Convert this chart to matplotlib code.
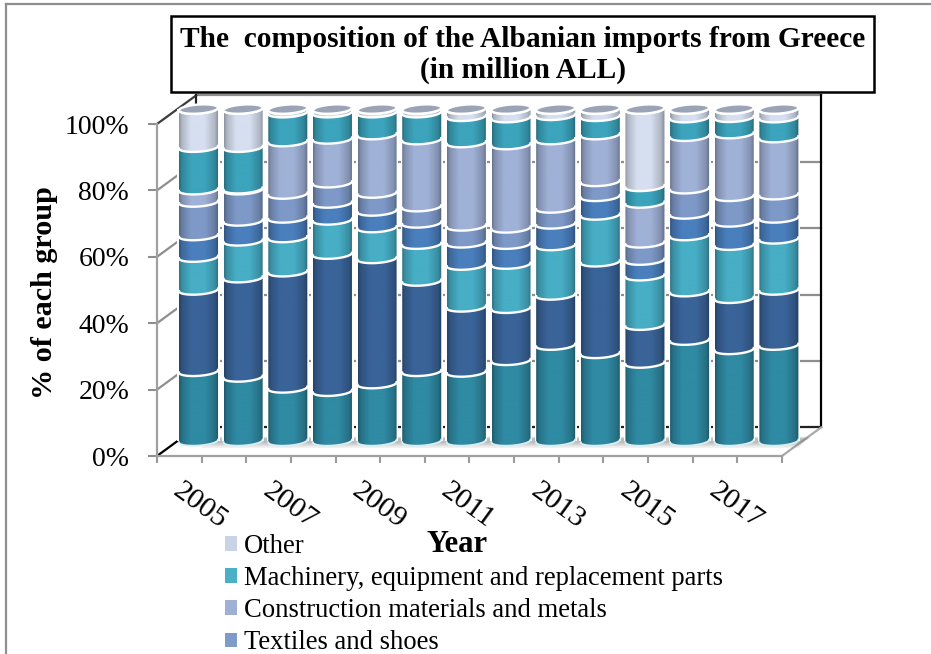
import numpy as np
import matplotlib
matplotlib.use("Agg")
import matplotlib.pyplot as plt
from matplotlib.colors import to_rgb
from matplotlib.patches import Patch, PathPatch, Rectangle
from matplotlib.path import Path
from matplotlib.transforms import ScaledTranslation

plt.rcParams["font.family"] = ["Liberation Serif", "DejaVu Serif"]

years = list(range(2005, 2019))
tick_years = years[::2]

# Share of each group per year, in percent, stacked from the bottom up
group_a = [21.0, 19.3, 16.0, 15.0, 17.3, 21.0, 20.8, 24.3, 28.9, 26.4, 23.5, 30.4, 27.6, 28.9]
group_b = [24.5, 29.9, 35.0, 41.3, 37.7, 27.2, 19.6, 15.7, 15.1, 27.6, 11.4, 14.6, 15.4, 16.6]
group_c = [9.9, 11.1, 10.3, 10.3, 9.3, 11.1, 12.6, 13.3, 14.9, 14.1, 14.9, 16.9, 16.0, 15.4]
group_d = [6.5, 6.0, 5.9, 5.1, 5.0, 6.4, 6.7, 6.0, 6.5, 5.6, 4.7, 6.5, 7.0, 6.3]
textiles = [10.1, 9.4, 7.2, 6.1, 5.4, 4.9, 5.1, 4.9, 4.8, 4.5, 5.2, 7.6, 7.7, 7.0]
construction = [3.7, 0.3, 15.8, 13.2, 17.6, 20.2, 25.1, 25.1, 20.6, 14.1, 12.0, 15.8, 18.9, 17.2]
machinery = [12.8, 12.5, 8.7, 7.9, 6.6, 8.1, 7.9, 8.1, 7.3, 5.5, 5.0, 5.6, 4.9, 6.0]
other = [11.5, 11.5, 1.1, 1.1, 1.1, 1.1, 2.2, 2.6, 1.9, 2.2, 23.3, 2.6, 2.5, 2.6]

series = [group_a, group_b, group_c, group_d, textiles, construction, machinery, other]
body_colors = ["#2f8aa3", "#3a6499", "#47aec6", "#4a7fbd", "#7e99c8", "#a0b1d7", "#3ca4bc", "#d6dff0"]

legend_labels = ["Other", "Machinery, equipment and replacement parts",
                 "Construction materials and metals", "Textiles and shoes"]
legend_colors = ["#c8d3e6", "#4bafc8", "#9fb0d5", "#7f9cc9"]

W, H, DPI = 931, 654, 100
fig = plt.figure(figsize=(W / DPI, H / DPI), dpi=DPI, facecolor="white")
ax = fig.add_axes([157 / W, 1 - 456 / H, 625 / W, 332 / H])
ax.patch.set_visible(False)
XLIM, YLIM = (-0.5, 13.5), (0, 100)

# Outer border of the chart area
for seg in ([6, 6], [4, 654]), ([6, 931], [4, 4]):
    fig.add_artist(plt.Line2D(np.array(seg[0]) / W, 1 - np.array(seg[1]) / H, color="#8f8f8f", lw=1.6))

# Depth of the 3D box, and where the cylinders stand within it, in data units
DEPTH_X, DEPTH_Y = 0.875, 8.6
MID_X, MID_Y = 0.43, 4.5
RX, RY, TILT = 0.437, 1.36, 0.9

GREY = "#8e8e8e"
x0, x1 = XLIM
bx0, bx1 = x0 + DEPTH_X, x1 + DEPTH_X
for v in (20, 40, 60, 80):
    ax.plot([bx0, bx1], [v + DEPTH_Y] * 2, color=GREY, lw=1.6, clip_on=False, zorder=1)
    ax.plot([x0, bx0], [v, v + DEPTH_Y], color=GREY, lw=1.6, clip_on=False, zorder=1)
ax.plot([bx0, bx1], [100 + DEPTH_Y] * 2, color=GREY, lw=1.6, clip_on=False, zorder=1)
ax.plot([x0, bx0], [100, 100 + DEPTH_Y], color="#3c3c3c", lw=1.6, clip_on=False, zorder=1)
ax.plot([x0, bx0], [0, DEPTH_Y], color="black", lw=1.6, clip_on=False, zorder=1)
ax.plot([bx0, bx1], [DEPTH_Y] * 2, color="#222222", lw=1.6, clip_on=False, zorder=1)
ax.plot([bx0, bx0], [DEPTH_Y, 100 + DEPTH_Y], color="#222222", lw=1.6, clip_on=False, zorder=1)
ax.plot([bx1, bx1], [DEPTH_Y, 100 + DEPTH_Y], color="black", lw=1.6, clip_on=False, zorder=1)
ax.plot([x1, bx1], [0, DEPTH_Y], color="#a9a9a9", lw=1.6, clip_on=False, zorder=1)

# Soft shadow on the floor underneath the cylinders
for k, alpha in enumerate((0.10, 0.14, 0.18, 0.22)):
    ax.fill([x0 + 1.0, x1 + 0.38 - k * 0.01, x1 + 0.62, x0 + 1.2],
            [2.4 + k * 0.5, 2.4 + k * 0.5, 5.9 - k * 0.2, 5.9 - k * 0.2],
            color="#7f7f7f", alpha=alpha, lw=0, clip_on=False, zorder=2)

shade_u = np.linspace(0, 1, 80)
shade = np.interp(shade_u, [0, 0.07, 0.3, 0.65, 0.9, 1], [0.66, 0.82, 1.0, 1.0, 0.82, 0.62])


def front_arc(xc, level, n=40, reverse=False):
    t = np.linspace(np.pi, 2 * np.pi, n)
    xs = xc + RX * np.cos(t)
    ys = level + RY * np.sin(t) + TILT * (xs - xc)
    return (xs[::-1], ys[::-1]) if reverse else (xs, ys)


cum = np.cumsum(np.array(series, dtype=float), axis=0)
for i in range(len(years)):
    xc = i + MID_X
    # White halo that keeps the wall lines from touching the cylinder
    ax.fill([xc - RX - 0.035, xc + RX + 0.035, xc + RX + 0.035, xc - RX - 0.035],
            [MID_Y, MID_Y, 100 + MID_Y, 100 + MID_Y], color="white", lw=0, clip_on=False, zorder=3)
    for s in range(len(series)):
        lo = MID_Y + (cum[s - 1, i] if s else 0)
        hi = MID_Y + cum[s, i]
        xa, ya = front_arc(xc, hi)
        xb, yb = front_arc(xc, lo, reverse=True)
        verts = np.column_stack([np.r_[xa, xb, xa[0]], np.r_[ya, yb, ya[0]]])
        patch = PathPatch(Path(verts), fc="none", ec="none", transform=ax.transData)
        ax.add_patch(patch)
        base = np.array(to_rgb(body_colors[s]))
        img = np.clip(shade[None, :, None] * base[None, None, :], 0, 1)
        im = ax.imshow(img, extent=[xc - RX, xc + RX, lo - 3, hi + 3], aspect="auto",
                       interpolation="bilinear", zorder=4 + 0.01 * s, origin="lower")
        im.set_clip_box(fig.bbox)
        im.set_clip_path(patch)
        ax.plot(xa, ya, color="white", lw=1.7, clip_on=False, zorder=5)
    # Pale rim along the foot of the cylinder
    xf, yf = front_arc(xc, MID_Y)
    ax.plot(xf, yf, color="#d8eef3", lw=1.4, clip_on=False, zorder=5)
    # Top cap
    t = np.linspace(0, 2 * np.pi, 80)
    xt = xc + RX * np.cos(t)
    yt = MID_Y + 100 + RY * np.sin(t) + TILT * (xt - xc)
    ax.fill(xt, yt, fc="#9aa4b6", ec="white", lw=1.7, clip_on=False, zorder=6)

ax.set_xlim(*XLIM)
ax.set_ylim(*YLIM)

for side in ("top", "right"):
    ax.spines[side].set_visible(False)
for side in ("left", "bottom"):
    ax.spines[side].set_color("#a0a0a0")
    ax.spines[side].set_linewidth(1.6)
    ax.spines[side].set_zorder(2.5)

ax.set_yticks(range(0, 101, 20))
ax.set_yticklabels([f"{v}%" for v in range(0, 101, 20)], fontsize=20)
ax.tick_params(axis="y", length=6.5, width=1.5, color="#8e8e8e", pad=13.5)
ax.set_xticks(np.arange(-0.5, 13.6, 1), minor=True)
ax.tick_params(axis="x", which="minor", length=5, width=1.5, color="#9a9a9a")
ax.set_xticks([years.index(y) for y in tick_years])
ax.set_xticklabels(tick_years, fontsize=21.5, rotation=-36, ha="left", va="center",
                   rotation_mode="anchor")
ax.tick_params(axis="x", which="major", length=0, pad=23)
for label in ax.get_xticklabels():
    label.set_transform(label.get_transform() + ScaledTranslation(-3 / DPI, 0, fig.dpi_scale_trans))

ax.set_ylabel("% of each group", fontsize=21.7, fontweight="bold", va="center")
ax.yaxis.set_label_coords((44 - 157) / 625, (456 - 292.5) / 332)
ax.set_xlabel("Year", fontsize=22, fontweight="bold", va="center")
ax.xaxis.set_label_coords((457 - 157) / 625, (456 - 544) / 332)

# Title in a boxed banner
fig.add_artist(Rectangle((171 / W, 1 - 92 / H), 703 / W, 76 / H, transform=fig.transFigure,
                         fc="white", ec="black", lw=1.8, zorder=10))
fig.text(522.5 / W, 1 - 55 / H, "The  composition of the Albanian imports from Greece\n(in million ALL)",
         ha="center", va="center", fontsize=21.2, fontweight="bold", linespacing=1.14, zorder=11)

handles = [Patch(fc=c, ec="none") for c in legend_colors]
fig.legend(handles, legend_labels, loc="upper left", bbox_to_anchor=(225 / W, 1 - 534 / H),
           frameon=False, fontsize=19.2, handlelength=0.45, handleheight=0.45, handletextpad=0.27,
           labelspacing=0.265, borderpad=0, borderaxespad=0)

fig.savefig("out.png", dpi=DPI)
